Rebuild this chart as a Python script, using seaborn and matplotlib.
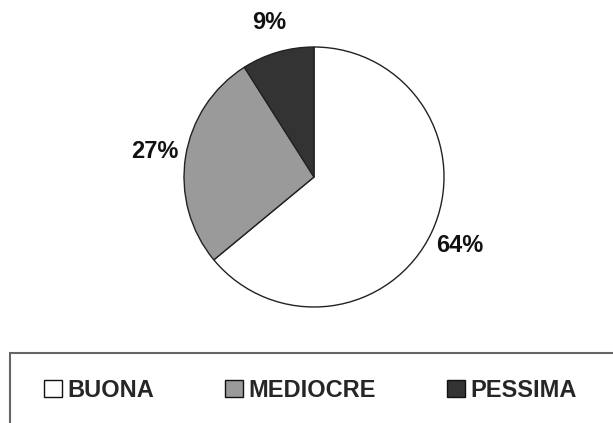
import matplotlib
matplotlib.use("Agg")
import matplotlib.pyplot as plt
from matplotlib.patches import Rectangle, Patch
import seaborn as sns

labels = ["BUONA", "MEDIOCRE", "PESSIMA"]
values = [64, 27, 9]
colors = ["#ffffff", "#9a9a9a", "#333333"]

sns.set_theme(style="white")
plt.rcParams["font.family"] = ["Liberation Sans", "DejaVu Sans"]

W, H = 613, 423
fig = plt.figure(figsize=(W / 100, H / 100), dpi=100)

# pie: centre (314, 177) px, radius ~130 px
cx, cy, r = 314, 177, 130
ax = fig.add_axes([(cx - r) / W, (H - cy - r) / H, 2 * r / W, 2 * r / H])
wedges, texts, autotexts = ax.pie(
    values,
    colors=colors,
    startangle=90,
    counterclock=False,
    autopct="%d%%",
    pctdistance=1.24,
    radius=1.0,
    wedgeprops=dict(edgecolor="#222222", linewidth=1.0),
    textprops=dict(fontsize=17, fontweight="bold", color="#111111"),
)
ax.set_xlim(-1.0, 1.0)
ax.set_ylim(-1.0, 1.0)
ax.set_aspect("equal")
ax.axis("off")

# legend frame, running off the right and bottom edges
fig.patches.append(
    Rectangle((10 / W, -0.1), 1.2, (H - 353) / H + 0.1,
              transform=fig.transFigure, facecolor="none",
              edgecolor="#666666", linewidth=1.5)
)

handles = [Patch(facecolor=c, edgecolor="#111111", linewidth=1.0) for c in colors]
fig.legend(
    handles, labels,
    ncol=3,
    loc="center left",
    bbox_to_anchor=(32 / W, (H - 390) / H),
    frameon=False,
    borderpad=0,
    handlelength=0.75,
    handleheight=0.75,
    handletextpad=0.25,
    columnspacing=3.0,
    prop=dict(size=17, weight="bold"),
)

fig.savefig("out.png", dpi=100, facecolor="white")
